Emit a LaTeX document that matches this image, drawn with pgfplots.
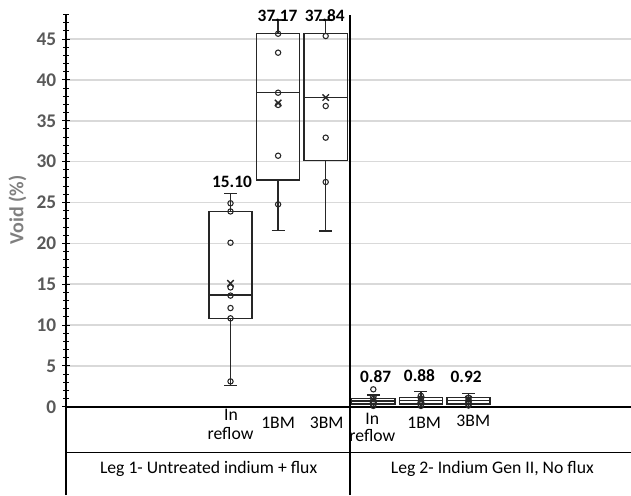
\documentclass[border=0pt]{standalone}
\usepackage{fontspec}
\setmainfont{Carlito}
\usepackage{pgfplots}
\pgfplotsset{compat=1.18}
\usepgfplotslibrary{statistics}
\definecolor{ticklab}{HTML}{595959}
\definecolor{ylab}{HTML}{7F7F7F}
\definecolor{gridc}{HTML}{D9D9D9}
\definecolor{boxc}{HTML}{262626}

% 1 px of the reference = 0.75pt
\pgfplotsset{
  vbox/.style={boxc, line width=1pt,
    boxplot/draw direction=y,
    boxplot/box extend=0.91, boxplot/whisker extend=0.27},
}

\begin{document}
\begin{tikzpicture}
\begin{axis}[
  name=ax, scale only axis, width=423.75pt, height=360.4pt,
  xmin=-3.456, xmax=8.414, ymin=-10.81, ymax=48,
  axis y line*=left, axis x line=none, clip=false,
  y axis line style={black, line width=0.9pt},
  ytick={0,5,...,45}, minor ytick={0,1,...,48},
  tick align=center, major tick length=5.5pt, minor tick length=4.2pt,
  tick style={black, line width=0.7pt},
  ymajorgrids, major grid style={gridc, line width=1.2pt},
  /pgf/number format/assume math mode=true,
  yticklabel style={font=\bfseries\fontsize{14.5}{14}\selectfont, text=ticklab, xshift=-1pt},
]
% boxes, leg 1
\addplot[vbox, boxplot prepared={draw position=0, lower whisker=2.57, lower quartile=10.82,
  median=13.67, upper quartile=23.92, upper whisker=26.12}] coordinates {};
\addplot[vbox, boxplot prepared={draw position=1, lower whisker=21.59, lower quartile=27.75,
  median=38.43, upper quartile=45.65, upper whisker=47.33}] coordinates {};
\addplot[vbox, boxplot prepared={draw position=2, lower whisker=21.5, lower quartile=30.16,
  median=37.87, upper quartile=45.65, upper whisker=47.33}] coordinates {};
% boxes, leg 2
\addplot[vbox, boxplot prepared={draw position=3, lower whisker=0.05, lower quartile=0.33,
  median=0.7, upper quartile=1.03, upper whisker=1.43}] coordinates {};
\addplot[vbox, boxplot prepared={draw position=4, lower whisker=0.05, lower quartile=0.33,
  median=0.75, upper quartile=1.15, upper whisker=1.84}] coordinates {};
\addplot[vbox, boxplot prepared={draw position=5, lower whisker=0.05, lower quartile=0.33,
  median=0.75, upper quartile=1.15, upper whisker=1.64}] coordinates {};

% single values
\addplot[only marks, mark=o, mark size=2pt, boxc, mark options={line width=0.8pt}] coordinates {
  (0,24.9) (0,23.9) (0,20.07) (0,14.6) (0,13.6) (0,12.08) (0,10.82) (0,3.1)
  (1,45.65) (1,43.33) (1,38.43) (1,36.93) (1,30.72) (1,24.77)
  (2,45.37) (2,36.8) (2,32.93) (2,27.5)
  (3,2.13) (3,0.95) (3,0.6) (3,0.35) (3,0.1)
  (4,1.35) (4,1.0) (4,0.6) (4,0.3) (4,0.1)
  (5,1.1) (5,0.9) (5,0.6) (5,0.35) (5,0.15)
};
% means
\addplot[only marks, mark=x, mark size=3.4pt, boxc, mark options={line width=1pt}] coordinates {
  (0,15.10) (1,37.17) (2,37.84) (3,0.87) (4,0.88) (5,0.92)};

% mean labels
\begin{scope}[every node/.style={font=\bfseries\fontsize{13}{14}\selectfont, text=black}]
\node at (axis cs:0.03,27.47) {15.10};
\node at (axis cs:0.99,47.86) {37.17};
\node at (axis cs:1.98,47.86) {37.84};
\node at (axis cs:3.05,3.67) {0.87};
\node at (axis cs:3.97,3.8) {0.88};
\node at (axis cs:4.95,3.6) {0.92};
\end{scope}

% frame of the category table
\draw[black, line width=1.2pt] (axis cs:-3.456,0) -- (axis cs:8.414,0);
\draw[black, line width=0.9pt] (axis cs:2.51,-10.81) -- (axis cs:2.51,48);
\draw[black, line width=0.9pt] (axis cs:-3.456,-5.58) -- (axis cs:8.414,-5.58);

% category names
\begin{scope}[every node/.style={font=\fontsize{13.25}{14}\selectfont, text=black, inner sep=0pt}]
\node at (axis cs:0.01,-1.02) {In};
\node at (axis cs:0.0,-3.26) {reflow};
\node at (axis cs:1.0,-1.91) {1BM};
\node at (axis cs:2.02,-1.91) {3BM};
\node at (axis cs:2.98,-1.42) {In};
\node at (axis cs:2.98,-3.55) {reflow};
\node at (axis cs:4.07,-1.96) {1BM};
\node at (axis cs:5.10,-1.75) {3BM};
\node at (axis cs:-0.46,-7.66) {Leg 1- Untreated indium + flux};
\node at (axis cs:5.50,-7.66) {Leg 2- Indium Gen II, No flux};
\end{scope}

\node[rotate=90, inner sep=0pt, font=\bfseries\fontsize{15}{15}\selectfont, text=ylab]
  at ([xshift=-36.4pt]axis cs:-3.456,24.1) {Void (\%)};
\end{axis}
\pgfresetboundingbox
\path[use as bounding box] ([xshift=-49.5pt]ax.south west) rectangle ([yshift=10.9pt]ax.north east);
\end{tikzpicture}
\end{document}
